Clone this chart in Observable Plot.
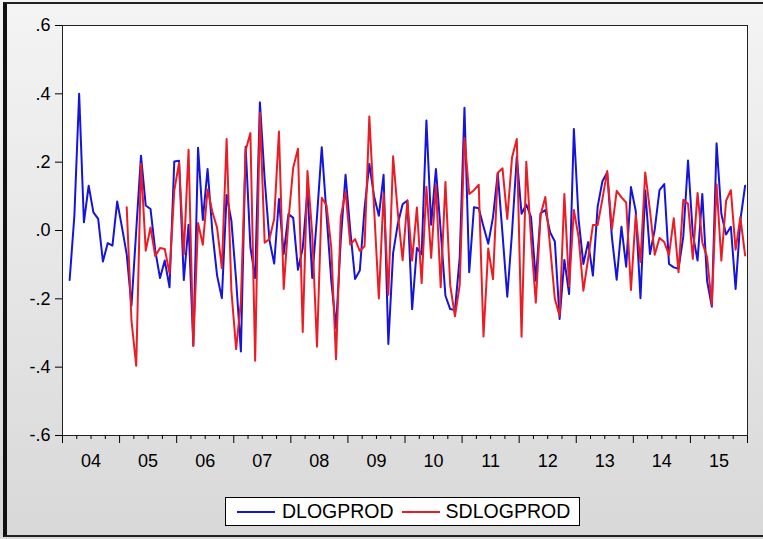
<!DOCTYPE html>
<html><head><meta charset="utf-8">
<script src="https://cdn.jsdelivr.net/npm/d3@7"></script>
<script src="https://cdn.jsdelivr.net/npm/@observablehq/plot@0.6"></script>
<style>
html,body{margin:0;padding:0;background:#fff;}
#wrap{position:relative;width:763px;height:539px;overflow:hidden;background:linear-gradient(to bottom,#f4f4f4,#d8d8d8);font-family:"Liberation Sans",Arial,sans-serif;}
#border{position:absolute;left:3px;top:2px;right:-4px;bottom:2px;border-left:4px solid #111;border-top:2px solid #222;border-bottom:2px solid #222;}
#chart{position:absolute;left:0;top:0;}
#legend{position:absolute;left:225px;top:497px;width:355px;height:29px;background:#fff;border:1px solid #000;box-sizing:border-box;display:flex;align-items:center;font-size:19.5px;color:#000;white-space:nowrap;}
.sw{display:inline-block;width:38px;height:2px;}
</style></head><body>
<div id="wrap"><div id="border"></div><div id="chart"></div><div id="legend"></div></div>
<script>
// Monthly observations; month index counted from 2004M01 (= 0)
const seriesNames = ["DLOGPROD", "SDLOGPROD"];
const seriesColors = ["#1414dc", "#ec1c24"];
const dlogprodStart = 1;    // 2004M02
const sdlogprodStart = 13;  // 2005M02

const dlogprod = [
 -0.145, 0.044, 0.400, 0.024, 0.131, 0.053, 0.034, -0.091, -0.037, -0.044, 0.085,
 0.010, -0.070, -0.220, 0.000, 0.219, 0.073, 0.063, -0.059, -0.139, -0.088, -0.166, 0.202,
 0.204, -0.145, 0.017, -0.337, 0.242, 0.031, 0.180, -0.003, -0.132, -0.198, 0.104, 0.029,
 -0.145, -0.354, 0.245, -0.049, -0.139, 0.375, 0.150, -0.028, -0.097, 0.092, -0.069, 0.048,
 0.037, -0.115, -0.052, 0.118, -0.139, 0.040, 0.244, 0.048, -0.147, -0.285, -0.028, 0.163,
 0.000, -0.142, -0.117, 0.065, 0.195, 0.100, 0.043, 0.163, -0.332, -0.066, 0.020, 0.077,
 0.088, -0.230, -0.051, -0.070, 0.322, 0.017, 0.180, 0.000, -0.191, -0.230, -0.233, -0.080,
 0.359, -0.122, 0.068, 0.065, 0.012, -0.039, 0.039, 0.168, -0.010, -0.194, -0.005, 0.216,
 0.049, 0.076, 0.039, -0.147, 0.050, 0.060, -0.005, -0.032, -0.259, -0.086, -0.186, 0.297,
 0.032, -0.098, -0.034, -0.132, 0.070, 0.144, 0.170, -0.020, -0.144, 0.011, -0.106, 0.127,
 0.058, -0.198, 0.117, -0.069, 0.003, 0.118, 0.136, -0.098, -0.108, -0.112, -0.018, 0.205,
 -0.010, -0.088, 0.107, -0.147, -0.223, 0.255, 0.049, -0.012, 0.011, -0.171, 0.030, 0.131
];

const sdlogprod = [
 0.068, -0.264, -0.396, 0.195, -0.059, 0.009, -0.075, -0.051, -0.054, -0.125, 0.117,
 0.198, -0.070, 0.236, -0.337, 0.022, -0.042, 0.120, 0.055, 0.008, -0.110, 0.268, -0.175,
 -0.347, -0.209, 0.235, 0.285, -0.381, 0.345, -0.036, -0.025, 0.034, 0.290, -0.171, 0.030,
 0.184, 0.239, -0.297, 0.174, -0.010, -0.340, 0.096, 0.074, -0.049, -0.377, 0.039, 0.114,
 -0.041, -0.025, -0.060, -0.046, 0.334, 0.065, -0.199, 0.108, -0.188, 0.217, 0.050, -0.087,
 0.087, -0.088, 0.067, -0.154, 0.128, -0.080, 0.133, -0.166, 0.142, -0.160, -0.251, -0.160,
 0.271, 0.107, 0.118, 0.134, -0.310, -0.053, -0.142, 0.169, 0.182, 0.034, 0.214, 0.268,
 -0.311, 0.201, -0.025, -0.211, 0.045, 0.098, -0.046, -0.200, -0.250, 0.107, -0.163, 0.060,
 -0.020, -0.176, -0.082, 0.016, 0.016, 0.092, 0.174, 0.004, 0.116, 0.097, 0.082, -0.174,
 0.045, -0.092, 0.170, 0.058, -0.071, -0.022, -0.034, -0.072, 0.036, -0.122, 0.090, 0.078,
 -0.083, 0.110, -0.035, -0.078, -0.218, 0.135, -0.088, 0.087, 0.118, -0.056, 0.039, -0.073
];

const yTicks = [0.6, 0.4, 0.2, 0.0, -0.2, -0.4, -0.6];
const yTickLabels = [".6", ".4", ".2", ".0", "-.2", "-.4", "-.6"];
const yearLabels = ["04","05","06","07","08","09","10","11","12","13","14","15"];

// build table for the library
const rows = [];
dlogprod.forEach((v, k) => rows.push({series: seriesNames[0], t: dlogprodStart + k + 0.5, v}));
sdlogprod.forEach((v, k) => rows.push({series: seriesNames[1], t: sdlogprodStart + k + 0.5, v}));

const nMonths = yearLabels.length * 12;
const majorTicks = d3.range(0, nMonths + 1, 12);
const minorTicks = d3.range(0, nMonths + 1, 3).filter(m => m % 12 !== 0);
const yearCenters = yearLabels.map((_, k) => k * 12 + 6);

const chart = Plot.plot({
  width: 763, height: 539,
  marginLeft: 62, marginRight: 16, marginTop: 25, marginBottom: 104,
  style: {background: "transparent", fontFamily: "'Liberation Sans', Arial, sans-serif", color: "#000", overflow: "visible"},
  x: {domain: [0, nMonths], label: null},
  y: {domain: [-0.6, 0.6], label: null},
  color: {domain: seriesNames, range: seriesColors},
  marks: [
    Plot.frame({fill: "white", stroke: null}),
    Plot.line(rows, {x: "t", y: "v", z: "series", stroke: "series", strokeWidth: 2}),
    Plot.frame({stroke: "#222", strokeWidth: 1}),
    Plot.axisY(yTicks, {anchor: "left", tickSize: 7, tickPadding: 5, fontSize: 18, label: null,
      tickFormat: d => yTickLabels[yTicks.indexOf(d)]}),
    Plot.axisX(majorTicks, {anchor: "bottom", tickSize: 8, tickFormat: () => "", label: null}),
    Plot.axisX(minorTicks, {anchor: "bottom", tickSize: 4, tickFormat: () => "", label: null}),
    Plot.axisX(yearCenters, {anchor: "bottom", tickSize: 0, tickPadding: 19, fontSize: 18, label: null,
      tickFormat: d => yearLabels[Math.floor(d / 12)]})
  ]
});
document.getElementById("chart").appendChild(chart);

// legend
const leg = document.getElementById("legend");
const gaps = [[11, 7], [8, 6]];
seriesNames.forEach((name, k) => {
  const sw = document.createElement("span");
  sw.className = "sw";
  sw.style.background = seriesColors[k];
  sw.style.marginLeft = gaps[k][0] + "px";
  sw.style.marginRight = gaps[k][1] + "px";
  const tx = document.createElement("span");
  tx.textContent = name;
  leg.appendChild(sw);
  leg.appendChild(tx);
});
</script>
</body></html>
